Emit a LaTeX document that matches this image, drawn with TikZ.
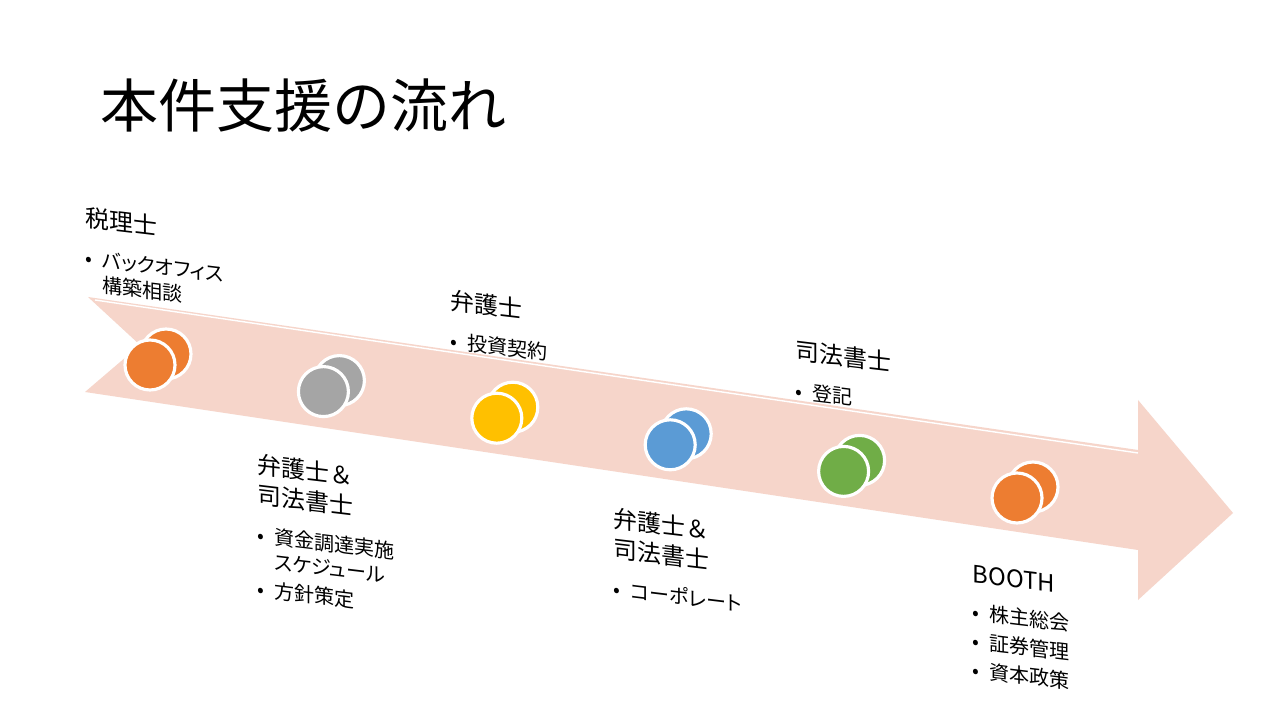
\documentclass[tikz,border=0pt]{standalone}
\usepackage{fontspec}
\setmainfont{Noto Sans CJK JP}[RawFeature={+palt}]
\newfontfamily\headfam{Noto Sans CJK JP}
\usepackage{tikz}
\usetikzlibrary{positioning}
\definecolor{arrowpink}{HTML}{F6D5CA}
\definecolor{accorange}{HTML}{ED7D31}
\definecolor{accgray}{HTML}{A5A5A5}
\definecolor{accyellow}{HTML}{FFC000}
\definecolor{accblue}{HTML}{5B9BD5}
\definecolor{accgreen}{HTML}{70AD47}
\newcommand{\titlefont}{\headfam\fontsize{16.5}{20}\selectfont}
\newcommand{\headfont}{\headfam\fontsize{6.8}{8.5}\selectfont}
\newcommand{\itemfont}{\fontsize{5.7}{7.1}\selectfont}

\begin{document}
\begin{tikzpicture}[
  % ---- node styles ----
  disc/.style={
    circle, draw=white, line width=0.9pt,
    minimum size=0.5cm, inner sep=0pt
  },
  stephead/.style={
    anchor=north west, yslant=-0.12, align=left,
    inner sep=0pt, font=\headfont
  },
  steplist/.style={
    anchor=north west, yslant=-0.12, align=left,
    inner sep=0pt, font=\itemfont
  },
]
\fill[white] (0,0) rectangle (12.8,-7.2);
\useasboundingbox (0,0) rectangle (12.8,-7.2);

% ---- Title ----
\node[anchor=west, inner sep=0pt, font=\titlefont] (title) at (1.0,-1.06) {本件支援の流れ};

% ---- Big arrow ----
\fill[arrowpink] (0.88,-2.97) -- (11.38,-4.50) -- (11.38,-4.00) -- (12.33,-5.13)
  -- (11.38,-6.00) -- (11.38,-5.50) -- (0.85,-3.92) -- (1.40,-3.45) -- cycle;
\draw[white, line width=0.4pt] (0.95,-3.00) -- (11.38,-4.53);

% ---- Discs along the arrow ----
\foreach \i/\col in {0/accorange,1/accgray,2/accyellow,3/accblue,4/accgreen,5/accorange}{
  \pgfmathsetmacro{\cx}{1.50+1.734*\i}
  \pgfmathsetmacro{\cy}{-3.65-0.266*\i}
  \node[disc, fill=\col] (back\i) at (\cx+0.16,\cy+0.11) {};
  \node[disc, fill=\col] (front\i) at (\cx,\cy) {};
}

% ---- Step 1 ----
\node[stephead] (zeirishi) at (0.85,-2.06) {税理士};
\node[steplist, below=5pt of zeirishi.south west, anchor=north west] (zeirishiList) {%
  \begin{tabular}{@{}l@{\hspace{0.5em}}l@{}}
  \textbullet & バックオフィス\\
              & 構築相談
  \end{tabular}};

% ---- Step 2 ----
\node[stephead] (bengoshiA) at (2.57,-4.53) {弁護士＆\\司法書士};
\node[steplist, below=5pt of bengoshiA.south west, anchor=north west] (bengoshiAList) {%
  \begin{tabular}{@{}l@{\hspace{0.5em}}l@{}}
  \textbullet & 資金調達実施\\
              & スケジュール\\[1.1pt]
  \textbullet & 方針策定
  \end{tabular}};

% ---- Step 3 ----
\node[stephead] (bengoshiB) at (4.50,-2.89) {弁護士};
\node[steplist, below=5pt of bengoshiB.south west, anchor=north west] (bengoshiBList) {%
  \begin{tabular}{@{}l@{\hspace{0.5em}}l@{}}
  \textbullet & 投資契約
  \end{tabular}};

% ---- Step 4 ----
\node[stephead] (bengoshiC) at (6.13,-5.07) {弁護士＆\\司法書士};
\node[steplist, below=5pt of bengoshiC.south west, anchor=north west] (bengoshiCList) {%
  \begin{tabular}{@{}l@{\hspace{0.5em}}l@{}}
  \textbullet & コーポレート
  \end{tabular}};

% ---- Step 5 ----
\node[stephead] (shihou) at (7.95,-3.39) {司法書士};
\node[steplist, below=5pt of shihou.south west, anchor=north west] (shihouList) {%
  \begin{tabular}{@{}l@{\hspace{0.5em}}l@{}}
  \textbullet & 登記
  \end{tabular}};

% ---- Step 6 ----
\node[stephead] (booth) at (9.72,-5.64) {BOOTH};
\node[steplist, below=5pt of booth.south west, anchor=north west] (boothList) {%
  \begin{tabular}{@{}l@{\hspace{0.5em}}l@{}}
  \textbullet & 株主総会\\[1.1pt]
  \textbullet & 証券管理\\[1.1pt]
  \textbullet & 資本政策
  \end{tabular}};

\end{tikzpicture}
\end{document}
